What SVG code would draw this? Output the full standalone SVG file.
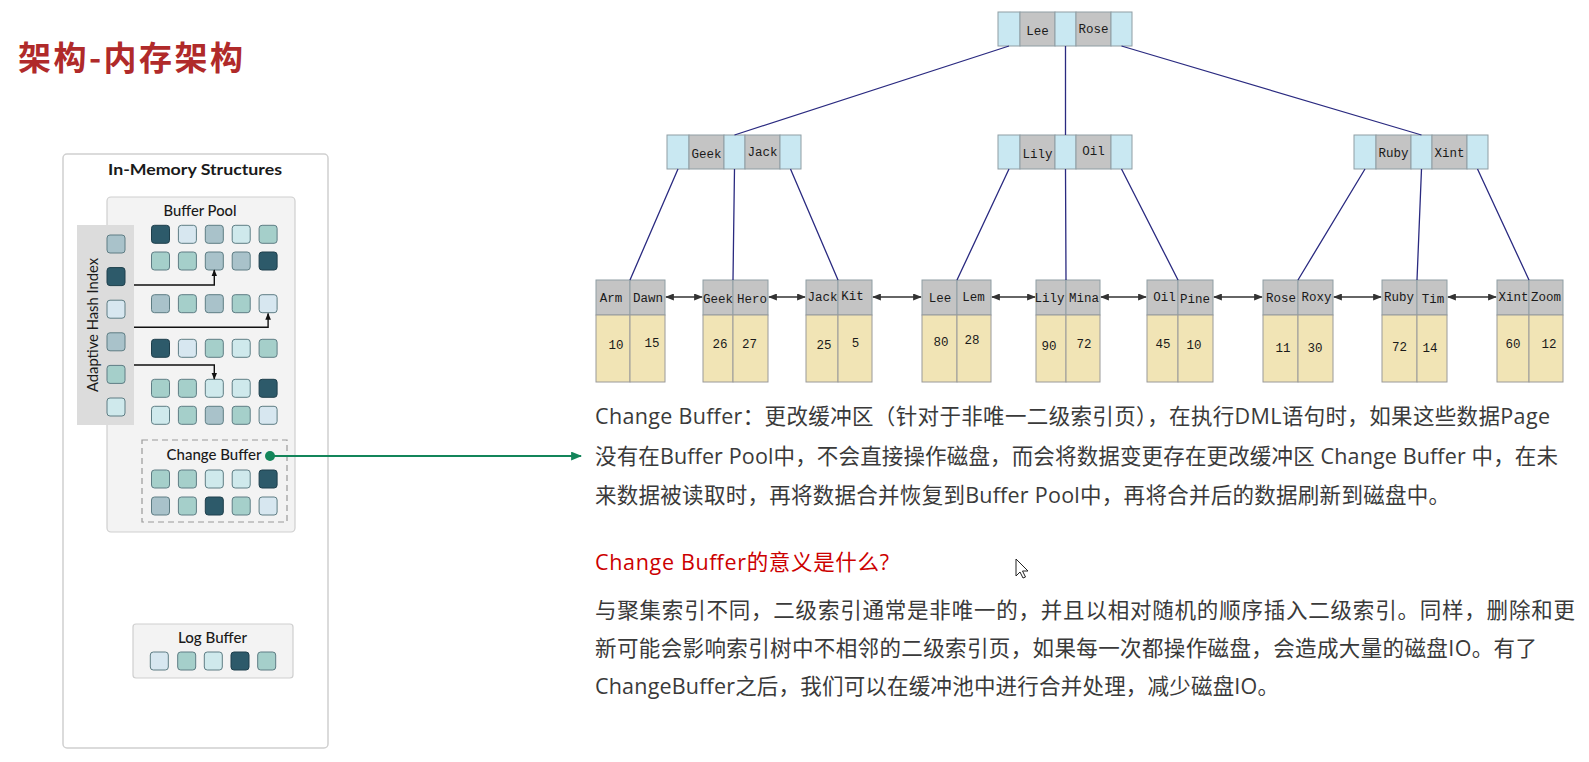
<svg xmlns="http://www.w3.org/2000/svg" width="1589" height="762" viewBox="0 0 1589 762">
<style>
.sq{stroke:#5e7d84;stroke-width:1}
.D{fill:#2d5a6a;stroke:#1e3f4c}
.L{fill:#d7e7f0}
.G{fill:#a9c2ca}
.T{fill:#a5cfca}
.C{fill:#cfe9ec}
.ui{font-family:Lato,"Open Sans","Liberation Sans",sans-serif;fill:#1a1a1a}
.bx{fill:#f3f3f3;stroke:#cfcfcf;stroke-width:1.2}
.nb{fill:#c9e8f2;stroke:#8f9ea4;stroke-width:1}
.ng{fill:#c4c4c4;stroke:#8f9ea4;stroke-width:1}
.ld{fill:#f1e4b5;stroke:#9a9a9a;stroke-width:1}
.mono{font-family:"Liberation Mono","DejaVu Sans Mono",monospace;font-size:12.5px;fill:#1a1a1a;text-anchor:middle}
.tl{stroke:#2a2a80;stroke-width:1.3;fill:none}
.la{stroke:#333;stroke-width:1.3;fill:none;marker-start:url(#ah);marker-end:url(#ah)}
.tx{font-family:"Open Sans","Noto Sans CJK SC",sans-serif;font-size:21.5px;fill:#3a3a3a}
</style>
<defs>
<marker id="ah" viewBox="0 0 10 8" refX="9" refY="4" markerWidth="9" markerHeight="7" markerUnits="userSpaceOnUse" orient="auto-start-reverse"><path d="M0,0L10,4L0,8z" fill="#333"/></marker>
<marker id="sa" viewBox="0 0 10 8" refX="9" refY="4" markerWidth="7" markerHeight="6" markerUnits="userSpaceOnUse" orient="auto"><path d="M0,0L10,4L0,8z" fill="#111"/></marker>
<marker id="ga" viewBox="0 0 10 8" refX="9" refY="4" markerWidth="11" markerHeight="9" markerUnits="userSpaceOnUse" orient="auto"><path d="M0,0L10,4L0,8z" fill="#13855a"/></marker>
</defs>
<rect width="1589" height="762" fill="#ffffff"/>

<text id="title" x="18" y="70" font-family="'Noto Sans CJK SC',sans-serif" font-weight="bold" font-size="33" fill="#b02a2a" textLength="225" lengthAdjust="spacing">架构-内存架构</text>

<g id="in-memory">
<rect x="63" y="154" width="265" height="594" rx="4" fill="#ffffff" stroke="#d0d0d0" stroke-width="1.5"/>
<text class="ui" x="108" y="175" font-size="16" font-weight="bold" textLength="174" lengthAdjust="spacingAndGlyphs">In-Memory Structures</text>
</g>

<g id="buffer-pool">
<rect class="bx" x="107" y="197" width="188" height="335" rx="4"/>
<text class="ui" x="163.5" y="215.7" font-size="14.5" font-weight="500" textLength="73" lengthAdjust="spacingAndGlyphs">Buffer Pool</text>
<g>
<rect class="sq D" x="151.5" y="225.3" width="18" height="18" rx="3"/>
<rect class="sq L" x="178.4" y="225.3" width="18" height="18" rx="3"/>
<rect class="sq G" x="205.3" y="225.3" width="18" height="18" rx="3"/>
<rect class="sq C" x="232.2" y="225.3" width="18" height="18" rx="3"/>
<rect class="sq T" x="259.1" y="225.3" width="18" height="18" rx="3"/>

<rect class="sq T" x="151.5" y="252" width="18" height="18" rx="3"/>
<rect class="sq T" x="178.4" y="252" width="18" height="18" rx="3"/>
<rect class="sq G" x="205.3" y="252" width="18" height="18" rx="3"/>
<rect class="sq G" x="232.2" y="252" width="18" height="18" rx="3"/>
<rect class="sq D" x="259.1" y="252" width="18" height="18" rx="3"/>

<rect class="sq G" x="151.5" y="294.7" width="18" height="18" rx="3"/>
<rect class="sq T" x="178.4" y="294.7" width="18" height="18" rx="3"/>
<rect class="sq G" x="205.3" y="294.7" width="18" height="18" rx="3"/>
<rect class="sq T" x="232.2" y="294.7" width="18" height="18" rx="3"/>
<rect class="sq L" x="259.1" y="294.7" width="18" height="18" rx="3"/>

<rect class="sq D" x="151.5" y="339.3" width="18" height="18" rx="3"/>
<rect class="sq L" x="178.4" y="339.3" width="18" height="18" rx="3"/>
<rect class="sq T" x="205.3" y="339.3" width="18" height="18" rx="3"/>
<rect class="sq C" x="232.2" y="339.3" width="18" height="18" rx="3"/>
<rect class="sq T" x="259.1" y="339.3" width="18" height="18" rx="3"/>

<rect class="sq T" x="151.5" y="379.3" width="18" height="18" rx="3"/>
<rect class="sq T" x="178.4" y="379.3" width="18" height="18" rx="3"/>
<rect class="sq C" x="205.3" y="379.3" width="18" height="18" rx="3"/>
<rect class="sq C" x="232.2" y="379.3" width="18" height="18" rx="3"/>
<rect class="sq D" x="259.1" y="379.3" width="18" height="18" rx="3"/>

<rect class="sq C" x="151.5" y="406.3" width="18" height="18" rx="3"/>
<rect class="sq T" x="178.4" y="406.3" width="18" height="18" rx="3"/>
<rect class="sq G" x="205.3" y="406.3" width="18" height="18" rx="3"/>
<rect class="sq T" x="232.2" y="406.3" width="18" height="18" rx="3"/>
<rect class="sq L" x="259.1" y="406.3" width="18" height="18" rx="3"/>
</g>
</g>

<g id="change-buffer">
<rect x="142" y="440" width="145" height="82" fill="none" stroke="#9a9a9a" stroke-width="1.2" stroke-dasharray="6,4"/>
<text class="ui" x="166.5" y="460" font-size="14.5" font-weight="500" textLength="95" lengthAdjust="spacingAndGlyphs">Change Buffer</text>
<rect class="sq T" x="151.5" y="470" width="18" height="18" rx="3"/>
<rect class="sq T" x="178.4" y="470" width="18" height="18" rx="3"/>
<rect class="sq C" x="205.3" y="470" width="18" height="18" rx="3"/>
<rect class="sq C" x="232.2" y="470" width="18" height="18" rx="3"/>
<rect class="sq D" x="259.1" y="470" width="18" height="18" rx="3"/>
<rect class="sq G" x="151.5" y="497" width="18" height="18" rx="3"/>
<rect class="sq T" x="178.4" y="497" width="18" height="18" rx="3"/>
<rect class="sq D" x="205.3" y="497" width="18" height="18" rx="3"/>
<rect class="sq T" x="232.2" y="497" width="18" height="18" rx="3"/>
<rect class="sq L" x="259.1" y="497" width="18" height="18" rx="3"/>
</g>

<g id="adaptive-hash-index">
<rect x="77" y="225" width="57" height="200" fill="#dcdcdc"/>
<text class="ui" transform="translate(98,325) rotate(-90)" x="-67" y="0" font-size="15" textLength="134" lengthAdjust="spacingAndGlyphs">Adaptive Hash Index</text>
<rect class="sq G" x="107" y="235" width="18" height="18" rx="3"/>
<rect class="sq D" x="107" y="267.6" width="18" height="18" rx="3"/>
<rect class="sq L" x="107" y="300.2" width="18" height="18" rx="3"/>
<rect class="sq G" x="107" y="332.8" width="18" height="18" rx="3"/>
<rect class="sq T" x="107" y="365.4" width="18" height="18" rx="3"/>
<rect class="sq C" x="107" y="398" width="18" height="18" rx="3"/>
</g>

<g id="log-buffer">
<rect class="bx" x="133" y="624" width="160" height="54" rx="3"/>
<text class="ui" x="178" y="643.3" font-size="14.5" font-weight="500" textLength="69" lengthAdjust="spacingAndGlyphs">Log Buffer</text>
<rect class="sq L" x="150.3" y="652" width="18" height="18" rx="3"/>
<rect class="sq T" x="177.7" y="652" width="18" height="18" rx="3"/>
<rect class="sq C" x="204.3" y="652" width="18" height="18" rx="3"/>
<rect class="sq D" x="231" y="652" width="18" height="18" rx="3"/>
<rect class="sq T" x="257.7" y="652" width="18" height="18" rx="3"/>
</g>

<g id="top-node">
<rect class="nb" x="998" y="12" width="22" height="34"/>
<rect class="ng" x="1020" y="12" width="35" height="34"/>
<rect class="nb" x="1055" y="12" width="21" height="34"/>
<rect class="ng" x="1076" y="12" width="35" height="34"/>
<rect class="nb" x="1111" y="12" width="21" height="34"/>
<text class="mono" x="1037.5" y="35">Lee</text>
<text class="mono" x="1093.5" y="33">Rose</text>
</g>

<g id="node-geek-jack">
<rect class="nb" x="667" y="135" width="22" height="34"/>
<rect class="ng" x="689" y="135" width="35" height="34"/>
<rect class="nb" x="724" y="135" width="21" height="34"/>
<rect class="ng" x="745" y="135" width="35" height="34"/>
<rect class="nb" x="780" y="135" width="21" height="34"/>
<text class="mono" x="706.5" y="158">Geek</text>
<text class="mono" x="762.5" y="156">Jack</text>
</g>

<g id="node-lily-oil">
<rect class="nb" x="998" y="135" width="22" height="34"/>
<rect class="ng" x="1020" y="135" width="35" height="34"/>
<rect class="nb" x="1055" y="135" width="21" height="34"/>
<rect class="ng" x="1076" y="135" width="35" height="34"/>
<rect class="nb" x="1111" y="135" width="21" height="34"/>
<text class="mono" x="1037.5" y="158">Lily</text>
<text class="mono" x="1093.5" y="155">Oil</text>
</g>

<g id="node-ruby-xint">
<rect class="nb" x="1354" y="135" width="22" height="34"/>
<rect class="ng" x="1376" y="135" width="35" height="34"/>
<rect class="nb" x="1411" y="135" width="21" height="34"/>
<rect class="ng" x="1432" y="135" width="35" height="34"/>
<rect class="nb" x="1467" y="135" width="21" height="34"/>
<text class="mono" x="1393.5" y="157">Ruby</text>
<text class="mono" x="1449.5" y="157">Xint</text>
</g>

<g id="leaf-arm-dawn">
<rect class="ng" x="596" y="280" width="34" height="35"/><rect class="ng" x="630" y="280" width="35" height="35"/>
<rect class="ld" x="596" y="315" width="34" height="67"/><rect class="ld" x="630" y="315" width="35" height="67"/>
<text class="mono" x="611" y="302">Arm</text><text class="mono" x="648" y="302">Dawn</text>
<text class="mono" x="616" y="349">10</text><text class="mono" x="652" y="347">15</text>
</g>
<g id="leaf-geek-hero">
<rect class="ng" x="703" y="280" width="30" height="35"/><rect class="ng" x="733" y="280" width="35" height="35"/>
<rect class="ld" x="703" y="315" width="30" height="67"/><rect class="ld" x="733" y="315" width="35" height="67"/>
<text class="mono" x="718" y="303">Geek</text><text class="mono" x="752" y="303">Hero</text>
<text class="mono" x="720" y="348">26</text><text class="mono" x="749.5" y="348">27</text>
</g>
<g id="leaf-jack-kit">
<rect class="ng" x="806" y="280" width="32" height="35"/><rect class="ng" x="838" y="280" width="34" height="35"/>
<rect class="ld" x="806" y="315" width="32" height="67"/><rect class="ld" x="838" y="315" width="34" height="67"/>
<text class="mono" x="822.5" y="301">Jack</text><text class="mono" x="852.5" y="300">Kit</text>
<text class="mono" x="824" y="349">25</text><text class="mono" x="855.5" y="347">5</text>
</g>
<g id="leaf-lee-lem">
<rect class="ng" x="922" y="280" width="35" height="35"/><rect class="ng" x="957" y="280" width="34" height="35"/>
<rect class="ld" x="922" y="315" width="35" height="67"/><rect class="ld" x="957" y="315" width="34" height="67"/>
<text class="mono" x="940" y="302">Lee</text><text class="mono" x="973.5" y="301">Lem</text>
<text class="mono" x="941" y="346">80</text><text class="mono" x="972" y="344">28</text>
</g>
<g id="leaf-lily-mina">
<rect class="ng" x="1036" y="280" width="30" height="35"/><rect class="ng" x="1066" y="280" width="34" height="35"/>
<rect class="ld" x="1036" y="315" width="30" height="67"/><rect class="ld" x="1066" y="315" width="34" height="67"/>
<text class="mono" x="1049.5" y="302">Lily</text><text class="mono" x="1084" y="302">Mina</text>
<text class="mono" x="1049" y="350">90</text><text class="mono" x="1084" y="348">72</text>
</g>
<g id="leaf-oil-pine">
<rect class="ng" x="1147" y="280" width="31" height="35"/><rect class="ng" x="1178" y="280" width="35" height="35"/>
<rect class="ld" x="1147" y="315" width="31" height="67"/><rect class="ld" x="1178" y="315" width="35" height="67"/>
<text class="mono" x="1164.5" y="301">Oil</text><text class="mono" x="1195" y="303">Pine</text>
<text class="mono" x="1163" y="348">45</text><text class="mono" x="1194" y="349">10</text>
</g>
<g id="leaf-rose-roxy">
<rect class="ng" x="1263" y="280" width="35" height="35"/><rect class="ng" x="1298" y="280" width="35" height="35"/>
<rect class="ld" x="1263" y="315" width="35" height="67"/><rect class="ld" x="1298" y="315" width="35" height="67"/>
<text class="mono" x="1281" y="302">Rose</text><text class="mono" x="1316.5" y="301">Roxy</text>
<text class="mono" x="1283" y="352">11</text><text class="mono" x="1315" y="352">30</text>
</g>
<g id="leaf-ruby-tim">
<rect class="ng" x="1382" y="280" width="35" height="35"/><rect class="ng" x="1417" y="280" width="30" height="35"/>
<rect class="ld" x="1382" y="315" width="35" height="67"/><rect class="ld" x="1417" y="315" width="30" height="67"/>
<text class="mono" x="1399" y="301">Ruby</text><text class="mono" x="1433" y="303">Tim</text>
<text class="mono" x="1399.5" y="351">72</text><text class="mono" x="1430" y="352">14</text>
</g>
<g id="leaf-xint-zoom">
<rect class="ng" x="1497" y="280" width="32" height="35"/><rect class="ng" x="1529" y="280" width="34" height="35"/>
<rect class="ld" x="1497" y="315" width="32" height="67"/><rect class="ld" x="1529" y="315" width="34" height="67"/>
<text class="mono" x="1513.5" y="301">Xint</text><text class="mono" x="1546" y="301">Zoom</text>
<text class="mono" x="1513" y="348">60</text><text class="mono" x="1549" y="348">12</text>
</g>

<g id="connectors">
<path class="tl" d="M1009,46L734.5,135M1065.5,46V135M1121.5,46L1421.5,135"/>
<path class="tl" d="M678,169L630,280M734.5,169L733,280M790.5,169L838,280"/>
<path class="tl" d="M1009,169L957,280M1065.5,169L1066,280M1121.5,169L1178,280"/>
<path class="tl" d="M1365,169L1298,280M1421.5,169L1417,280M1477.5,169L1529,280"/>
<line class="la" x1="666" y1="297" x2="702" y2="297"/>
<line class="la" x1="769" y1="297" x2="805" y2="297"/>
<line class="la" x1="873" y1="297" x2="921" y2="297"/>
<line class="la" x1="992" y1="297" x2="1035" y2="297"/>
<line class="la" x1="1101" y1="297" x2="1146" y2="297"/>
<line class="la" x1="1214" y1="297" x2="1262" y2="297"/>
<line class="la" x1="1334" y1="297" x2="1381" y2="297"/>
<line class="la" x1="1448" y1="297" x2="1496" y2="297"/>
<path d="M134,285H214.3V270" fill="none" stroke="#111" stroke-width="1.4" marker-end="url(#sa)"/>
<path d="M134,327.3H268.1V313.5" fill="none" stroke="#111" stroke-width="1.4" marker-end="url(#sa)"/>
<path d="M134,365H214.3V379" fill="none" stroke="#111" stroke-width="1.4" marker-end="url(#sa)"/>
<line x1="270" y1="456" x2="581" y2="456" stroke="#13855a" stroke-width="2" marker-end="url(#ga)"/>
<circle cx="270" cy="456" r="5" fill="#13855a"/>
</g>

<g id="text">
<text class="tx" x="595" y="423.5" textLength="955" lengthAdjust="spacing">Change Buffer：更改缓冲区（针对于非唯一二级索引页），在执行DML语句时，如果这些数据Page</text>
<text class="tx" x="595" y="463.5" textLength="963" lengthAdjust="spacing">没有在Buffer Pool中，不会直接操作磁盘，而会将数据变更存在更改缓冲区 Change Buffer 中，在未</text>
<text class="tx" x="595" y="503" textLength="855" lengthAdjust="spacing">来数据被读取时，再将数据合并恢复到Buffer Pool中，再将合并后的数据刷新到磁盘中。</text>
<text class="tx" x="595" y="570" font-size="20" fill="#cc0000" style="fill:#cc0000" textLength="294" lengthAdjust="spacing">Change Buffer的意义是什么?</text>
<text class="tx" x="595" y="618" textLength="980" lengthAdjust="spacing">与聚集索引不同，二级索引通常是非唯一的，并且以相对随机的顺序插入二级索引。同样，删除和更</text>
<text class="tx" x="595" y="656" textLength="942" lengthAdjust="spacing">新可能会影响索引树中不相邻的二级索引页，如果每一次都操作磁盘，会造成大量的磁盘IO。有了</text>
<text class="tx" x="595" y="693.5" textLength="684" lengthAdjust="spacing">ChangeBuffer之后，我们可以在缓冲池中进行合并处理，减少磁盘IO。</text>
</g>

<path id="cursor" d="M1016,559V576L1020,572L1023,578L1025.5,577L1022.5,571L1028,571Z" fill="#ffffff" stroke="#222" stroke-width="1"/>
</svg>
